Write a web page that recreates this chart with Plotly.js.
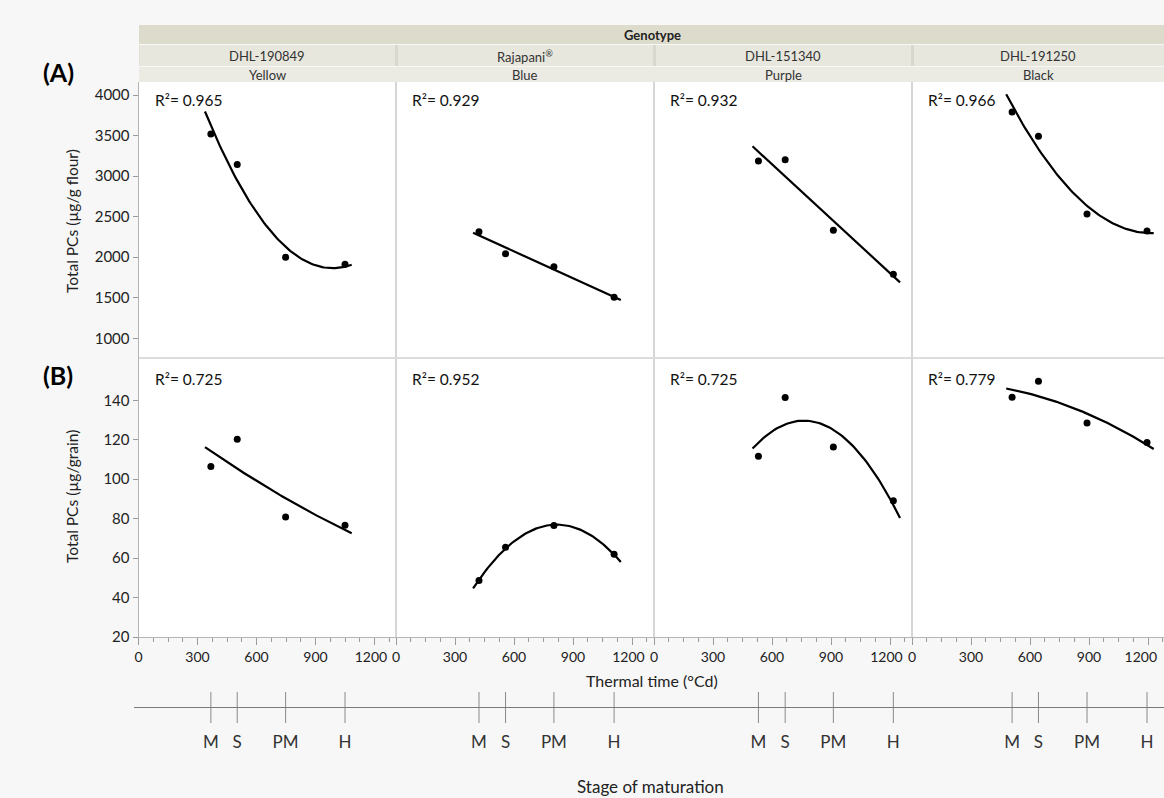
<!DOCTYPE html>
<html><head><meta charset="utf-8">
<script src="https://cdn.plot.ly/plotly-3.0.1.min.js"></script>
<style>html,body{margin:0;padding:0;background:#f7f7f7}</style>
</head><body><div id="chart" style="width:1164px;height:798px"></div>
<script>
// ---------------- data ----------------
const genotypes = ['DHL-190849', 'Rajapani<sup>®</sup>', 'DHL-151340', 'DHL-191250'];
const grainColours = ['Yellow', 'Blue', 'Purple', 'Black'];
const stages = ['M', 'S', 'PM', 'H'];

const thermalTime_DHL190849 = [368, 502, 748, 1050];
const thermalTime_Rajapani  = [422, 557, 803, 1109];
const thermalTime_DHL151340 = [531, 667, 912, 1217];
const thermalTime_DHL191250 = [509, 643, 890, 1195];

const flour_DHL190849 = [3519, 3144, 2000, 1914];
const flour_Rajapani  = [2314, 2043, 1883, 1505];
const flour_DHL151340 = [3186, 3203, 2332, 1789];
const flour_DHL191250 = [3790, 3491, 2533, 2323];

const grain_DHL190849 = [106.5, 120.2, 80.8, 76.6];
const grain_Rajapani  = [48.7, 65.5, 76.5, 61.9];
const grain_DHL151340 = [111.6, 141.4, 116.3, 89.1];
const grain_DHL191250 = [141.5, 149.6, 128.5, 118.6];

const r2Flour = ['0.965', '0.929', '0.932', '0.966'];
const r2Grain = ['0.725', '0.952', '0.725', '0.779'];
const fitDegreeFlour = [2, 1, 1, 2];
const fitDegreeGrain = [2, 2, 2, 2];

const flourTicks = [1000, 1500, 2000, 2500, 3000, 3500, 4000];
const grainTicks = [20, 40, 60, 80, 100, 120, 140];
const timeTicks = [0, 300, 600, 900, 1200];
const timeTickText = ['0', '300', '600', '900', '1200'];

const thermalTimes = [thermalTime_DHL190849, thermalTime_Rajapani, thermalTime_DHL151340, thermalTime_DHL191250];
const flourSeries = [flour_DHL190849, flour_Rajapani, flour_DHL151340, flour_DHL191250];
const grainSeries = [grain_DHL190849, grain_Rajapani, grain_DHL151340, grain_DHL191250];

// ---------------- least squares polynomial fit ----------------
function polyfit(xs, ys, deg) {
  const n = deg + 1, s = 1000;
  const M = Array.from({length: n}, () => Array(n + 1).fill(0));
  xs.forEach((xv, i) => {
    const x = xv / s;
    for (let r = 0; r < n; r++) {
      for (let c = 0; c < n; c++) M[r][c] += Math.pow(x, r + c);
      M[r][n] += ys[i] * Math.pow(x, r);
    }
  });
  for (let i = 0; i < n; i++) {
    let p = i;
    for (let k = i + 1; k < n; k++) if (Math.abs(M[k][i]) > Math.abs(M[p][i])) p = k;
    [M[i], M[p]] = [M[p], M[i]];
    for (let k = i + 1; k < n; k++) {
      const f = M[k][i] / M[i][i];
      for (let c = i; c <= n; c++) M[k][c] -= f * M[i][c];
    }
  }
  const b = Array(n).fill(0);
  for (let i = n - 1; i >= 0; i--) {
    let v = M[i][n];
    for (let c = i + 1; c < n; c++) v -= M[i][c] * b[c];
    b[i] = v / M[i][i];
  }
  return xv => b.reduce((acc, bi, k) => acc + bi * Math.pow(xv / s, k), 0);
}
function fitCurve(xs, ys, deg) {
  const f = polyfit(xs, ys, deg);
  const lo = Math.min(...xs) - 30, hi = Math.max(...xs) + 34;
  const cx = [], cy = [];
  for (let i = 0; i <= 80; i++) { const x = lo + (hi - lo) * i / 80; cx.push(x); cy.push(f(x)); }
  return {cx, cy};
}

// ---------------- geometry ----------------
const W = 1164, H = 798;
const fx = p => p / W, fy = p => 1 - p / H;
const colL = [138.5, 396, 654, 912], colR = [396, 654, 912, 1164];
const pxPerUnit = 59 / 300;
const FONT = 'Lato, "Open Sans", sans-serif';
const topY = [82, 358], botY = [358, 637];
const flourRange = [4000 - (358 - 95) / 0.0811, 4000 + (95 - 82) / 0.0811];
const grainRange = [20, 20 + (637 - 358) / 1.9725];

const layout = {
  width: W, height: H, autosize: false,
  margin: {l: 0, r: 0, t: 0, b: 0},
  paper_bgcolor: '#f7f7f7', plot_bgcolor: 'rgba(0,0,0,0)',
  showlegend: false,
  font: {family: FONT, color: '#222'},
  shapes: [], annotations: []
};
const traces = [];

// header bands (drawn first so cells sit on top)
layout.shapes.push({type: 'rect', xref: 'paper', yref: 'paper', layer: 'below',
  x0: fx(139), x1: 1, y0: fy(44), y1: fy(25), fillcolor: '#dddbcc', line: {width: 0}});
layout.shapes.push({type: 'rect', xref: 'paper', yref: 'paper', layer: 'below',
  x0: fx(139), x1: 1, y0: fy(66), y1: fy(45), fillcolor: '#d9d8ce', line: {width: 0}});
layout.shapes.push({type: 'rect', xref: 'paper', yref: 'paper', layer: 'below',
  x0: fx(139), x1: 1, y0: fy(82), y1: fy(67), fillcolor: '#ebeae3', line: {width: 0}});

for (let c = 0; c < 4; c++) {
  const xr = [0, (colR[c] - colL[c]) / pxPerUnit];
  const dom = [fx(colL[c]), fx(colR[c])];
  const iT = c + 1, iB = c + 5, iS = c + 9;
  const sfx = i => (i === 1 ? '' : String(i));
  const tText = timeTickText.slice();
  // nudge the last label left so it does not collide with the next panel's "0" / the page edge
  tText[tText.length - 1] = timeTickText[timeTickText.length - 1] + (c === 3 ? '\u00a0\u00a0\u00a0\u00a0' : '\u00a0\u00a0');
  // top row axes
  layout['xaxis' + sfx(iT)] = {domain: dom, range: xr, visible: false, anchor: 'y' + sfx(iT)};
  layout['yaxis' + sfx(iT)] = {
    domain: [fy(topY[1]), fy(topY[0])], range: flourRange, anchor: 'x' + sfx(iT),
    showgrid: false, zeroline: false,
    showline: c === 0, linecolor: '#b5b5b5', linewidth: 1,
    tickvals: c === 0 ? flourTicks : [], ticks: c === 0 ? 'outside' : '', ticklen: 5, tickcolor: '#9a9a9a',
    showticklabels: c === 0, tickfont: {size: 15, family: FONT, color: '#222'}
  };
  // bottom row axes
  layout['xaxis' + iB] = {
    domain: dom, range: xr, anchor: 'y' + iB,
    showgrid: false, zeroline: false, showline: true, linecolor: '#b5b5b5', linewidth: 1,
    tickvals: timeTicks, ticktext: tText, ticks: 'outside', ticklen: 7, tickcolor: '#9a9a9a',
    minor: {tick0: 0, dtick: 75, ticks: 'outside', ticklen: 4, tickcolor: '#9a9a9a'},
    ticklabeloverflow: 'allow',
    tickfont: {size: 14, family: FONT, color: '#222'}
  };
  layout['yaxis' + iB] = {
    domain: [fy(botY[1]), fy(botY[0])], range: grainRange, anchor: 'x' + iB,
    showgrid: false, zeroline: false,
    showline: c === 0, linecolor: '#b5b5b5', linewidth: 1,
    tickvals: c === 0 ? grainTicks : [], ticks: c === 0 ? 'outside' : '', ticklen: 5, tickcolor: '#9a9a9a',
    showticklabels: c === 0, tickfont: {size: 15, family: FONT, color: '#222'}
  };
  // stage-of-maturation axes (pixel-row y scale)
  layout['xaxis' + iS] = {domain: dom, range: xr, visible: false, anchor: 'y' + iS};
  layout['yaxis' + iS] = {domain: [fy(770), fy(680)], range: [770, 680], visible: false, anchor: 'x' + iS};

  // white panel backgrounds
  [topY, botY].forEach(r => layout.shapes.push({
    type: 'rect', xref: 'paper', yref: 'paper', layer: 'below',
    x0: fx(colL[c]), x1: fx(colR[c]), y0: fy(r[1]), y1: fy(r[0]),
    fillcolor: '#ffffff', line: {width: 0}
  }));

  const xs = thermalTimes[c];
  // top row
  const ft = fitCurve(xs, flourSeries[c], fitDegreeFlour[c]);
  traces.push({x: ft.cx, y: ft.cy, xaxis: 'x' + sfx(iT), yaxis: 'y' + sfx(iT), mode: 'lines',
    line: {color: '#000', width: 2.2}, hoverinfo: 'skip'});
  traces.push({x: xs, y: flourSeries[c], xaxis: 'x' + sfx(iT), yaxis: 'y' + sfx(iT), mode: 'markers',
    marker: {color: '#000', size: 7}, name: genotypes[c]});
  // bottom row
  const fb = fitCurve(xs, grainSeries[c], fitDegreeGrain[c]);
  traces.push({x: fb.cx, y: fb.cy, xaxis: 'x' + iB, yaxis: 'y' + iB, mode: 'lines',
    line: {color: '#000', width: 2.2}, hoverinfo: 'skip'});
  traces.push({x: xs, y: grainSeries[c], xaxis: 'x' + iB, yaxis: 'y' + iB, mode: 'markers',
    marker: {color: '#000', size: 7}, name: genotypes[c]});
  // stage ticks + labels
  const lx = [], ly = [];
  xs.forEach(v => { lx.push(v, v, null); ly.push(692, 723, null); });
  traces.push({x: lx, y: ly, xaxis: 'x' + iS, yaxis: 'y' + iS, mode: 'lines',
    line: {color: '#8a8a8a', width: 1}, hoverinfo: 'skip'});
  traces.push({x: xs, y: xs.map(() => 744), text: stages, xaxis: 'x' + iS, yaxis: 'y' + iS,
    mode: 'text', textfont: {size: 17, family: FONT, color: '#333'}, cliponaxis: false, hoverinfo: 'skip'});

  // R² annotations
  layout.annotations.push({xref: 'paper', yref: 'paper', x: fx(colL[c] + 14), y: fy(100), xanchor: 'left', yanchor: 'middle',
    text: 'R²= ' + r2Flour[c], showarrow: false, font: {size: 15.5, family: FONT, color: '#111'}});
  layout.annotations.push({xref: 'paper', yref: 'paper', x: fx(colL[c] + 14), y: fy(379), xanchor: 'left', yanchor: 'middle',
    text: 'R²= ' + r2Grain[c], showarrow: false, font: {size: 15.5, family: FONT, color: '#111'}});

  // header cells
  layout.shapes.push({type: 'rect', xref: 'paper', yref: 'paper', layer: 'below',
    x0: fx(colL[c] + (c === 0 ? 1 : 2)), x1: fx(colR[c] - (c === 3 ? 0 : 1)), y0: fy(66), y1: fy(45),
    fillcolor: '#e8e7de', line: {width: 0}});
  layout.annotations.push({xref: 'paper', yref: 'paper', x: fx((colL[c] + colR[c]) / 2), y: fy(56),
    xanchor: 'center', yanchor: 'middle', text: genotypes[c], showarrow: false,
    font: {size: 13, family: FONT, color: '#333'}});
  layout.annotations.push({xref: 'paper', yref: 'paper', x: fx((colL[c] + colR[c]) / 2), y: fy(75),
    xanchor: 'center', yanchor: 'middle', text: grainColours[c], showarrow: false,
    font: {size: 13, family: FONT, color: '#333'}});
}

// panel dividers
[396, 654, 912].forEach(x => layout.shapes.push({type: 'line', xref: 'paper', yref: 'paper',
  x0: fx(x), x1: fx(x), y0: fy(637), y1: fy(82), line: {color: '#d6d6d6', width: 2}}));
layout.shapes.push({type: 'line', xref: 'paper', yref: 'paper',
  x0: fx(139), x1: 1, y0: fy(358), y1: fy(358), line: {color: '#dcdcdc', width: 2}});
// stage baseline
layout.shapes.push({type: 'line', xref: 'paper', yref: 'paper',
  x0: fx(134), x1: 1, y0: fy(707.5), y1: fy(707.5), line: {color: '#7a7a7a', width: 1}});

// titles and labels
const ann = (x, y, text, size, extra) => layout.annotations.push(Object.assign({xref: 'paper', yref: 'paper',
  x: fx(x), y: fy(y), xanchor: 'center', yanchor: 'middle', text, showarrow: false,
  font: {size, family: FONT, color: '#222'}}, extra || {}));
ann(652, 35, '<b>Genotype</b>', 13);
ann(58, 72, '<b>(A)</b>', 25, {font: {size: 25, family: FONT, color: '#000'}});
ann(58, 375, '<b>(B)</b>', 25, {font: {size: 25, family: FONT, color: '#000'}});
ann(72, 221, 'Total PCs (µg/g flour)', 15.5, {textangle: -90});
ann(72, 497, 'Total PCs (µg/grain)', 15.5, {textangle: -90});
ann(652, 680, 'Thermal time (°Cd)', 16);
ann(650, 786, 'Stage of maturation', 17);

Plotly.newPlot('chart', traces, layout, {staticPlot: true, displayModeBar: false});
</script>
</body></html>
